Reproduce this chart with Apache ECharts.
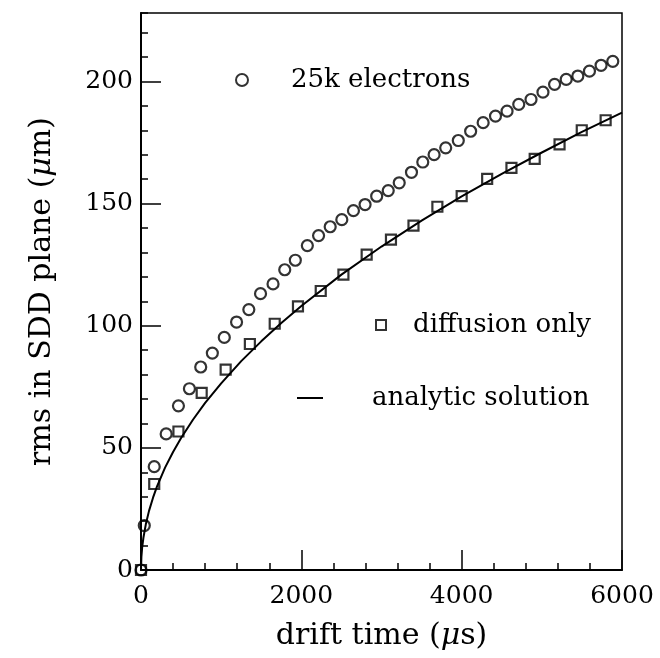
<!DOCTYPE html>
<html>
<head>
<meta charset="utf-8">
<script src="https://cdn.jsdelivr.net/npm/echarts@6/dist/echarts.min.js"></script>
<style>
  html, body { margin: 0; padding: 0; background: #fff; }
  #chart { width: 660px; height: 658px; }
</style>
</head>
<body>
<div id="chart"></div>
<script>
// 25k electrons (circles)
const electronsT = [0, 41, 165, 314, 467, 604, 745, 890, 1039, 1192, 1345, 1491, 1647, 1793, 1925,
  2075, 2215, 2360, 2505, 2650, 2795, 2940, 3084, 3221, 3374, 3515, 3656, 3801, 3958, 4112,
  4268, 4422, 4566, 4712, 4865, 5014, 5159, 5304, 5449, 5594, 5739, 5885];
const electronsRms = [0, 18.2, 42.3, 55.7, 67.2, 74.2, 83.1, 88.8, 95.2, 101.5, 106.6, 113.1, 117.1, 122.9, 126.8,
  132.8, 136.9, 140.5, 143.4, 147.1, 149.6, 153.0, 155.3, 158.5, 162.8, 167.0, 170.0, 172.8, 175.8, 179.6,
  183.1, 185.8, 187.8, 190.6, 192.6, 195.6, 198.8, 200.8, 202.2, 204.2, 206.6, 208.2];

// diffusion only (squares)
const diffusionT = [0, 165, 467, 757, 1056, 1358, 1668, 1958, 2242, 2525, 2815, 3118, 3399, 3697,
  4000, 4318, 4621, 4911, 5221, 5498, 5796];
const diffusionRms = [0, 35.2, 56.7, 72.5, 82.0, 92.5, 100.8, 107.9, 114.2, 120.9, 129.1, 135.2, 141.0, 148.7,
  153.0, 160.1, 164.6, 168.3, 174.2, 180.0, 184.1];

// analytic solution
const analyticT = [0, 5, 15, 30, 60, 100, 150, 200, 300, 400, 500, 650, 800, 1000, 1250, 1500, 1750,
  2000, 2500, 3000, 3500, 4000, 4500, 5000, 5500, 6000];
const analyticRms = [0, 5.4, 9.4, 13.2, 18.7, 24.2, 29.6, 34.2, 41.9, 48.3, 54, 61.6, 68.4, 76.4, 85.5, 93.6, 101.1,
  108.1, 120.9, 132.4, 143, 152.9, 162.1, 170.9, 179.3, 187.2];

const majorYTicks = [0, 50, 100, 150, 200];
const names = ['25k electrons', 'diffusion only', 'analytic solution'];

const zip = (a, b) => a.map((v, i) => [v, b[i]]);
const FONT = 'DejaVu Serif';

const chart = echarts.init(document.getElementById('chart'));

const legendText = (pad) => ({ fontFamily: FONT, fontSize: 26, color: '#000', padding: [0, 0, 0, pad] });

const option = {
  backgroundColor: '#fff',
  animation: false,
  grid: {
    left: 141, right: 38, top: 13, bottom: 88,
    show: true, borderColor: '#000', borderWidth: 1.5,
    outerBoundsMode: 'none'
  },
  legend: [
    {
      data: [names[0]], left: 235, top: 67, padding: 0, selectedMode: false,
      itemWidth: 12, itemHeight: 12, textStyle: legendText(38)
    },
    {
      data: [names[1]], left: 375, top: 312, padding: 0, selectedMode: false,
      itemWidth: 10, itemHeight: 10, textStyle: legendText(22)
    },
    {
      data: [{ name: names[2], icon: 'rect' }], left: 297, top: 385, padding: 0, selectedMode: false,
      itemWidth: 26, itemHeight: 2, textStyle: legendText(44)
    }
  ],
  xAxis: {
    type: 'value', min: 0, max: 6000, interval: 2000,
    name: 'drift time ({i|μ}s)', nameLocation: 'middle', nameGap: 51,
    nameTextStyle: {
      fontFamily: FONT, fontSize: 30, color: '#000',
      rich: { i: { fontFamily: FONT, fontSize: 30, fontStyle: 'italic', color: '#000' } }
    },
    axisLine: { lineStyle: { color: '#000', width: 2 } },
    axisTick: { inside: true, length: 20, lineStyle: { color: '#000', width: 1.5 } },
    minorTick: { show: true, splitNumber: 5, length: 7, lineStyle: { color: '#000', width: 1.5 } },
    splitLine: { show: false },
    axisLabel: { fontFamily: FONT, fontSize: 25, color: '#000', margin: 14, formatter: (v) => String(v) }
  },
  yAxis: [
    {
      type: 'value', min: 0, max: 228, interval: 10,
      name: 'rms in SDD plane ({i|μ}m)', nameLocation: 'middle', nameGap: 84,
      nameTextStyle: {
        fontFamily: FONT, fontSize: 30, color: '#000',
        rich: { i: { fontFamily: FONT, fontSize: 30, fontStyle: 'italic', color: '#000' } }
      },
      axisLine: { lineStyle: { color: '#000', width: 2 } },
      axisTick: { inside: true, length: 7, lineStyle: { color: '#000', width: 1.5 } },
      splitLine: { show: false },
      axisLabel: {
        interval: 0, fontFamily: FONT, fontSize: 25, color: '#000', margin: 8,
        formatter: (v) => (v % 50 === 0 ? String(v) : '')
      }
    },
    {
      type: 'value', min: 0, max: 228, interval: 50, position: 'left',
      axisLine: { show: false },
      axisTick: { inside: true, length: 20, customValues: majorYTicks, lineStyle: { color: '#000', width: 1.5 } },
      splitLine: { show: false },
      axisLabel: { show: false }
    }
  ],
  series: [
    {
      name: names[0], type: 'scatter', symbol: 'circle', symbolSize: 11,
      itemStyle: { color: 'rgba(0,0,0,0)', borderColor: '#000', borderWidth: 2.2 },
      data: zip(electronsT, electronsRms), z: 3
    },
    {
      name: names[1], type: 'scatter', symbol: 'rect', symbolSize: 10,
      itemStyle: { color: 'rgba(0,0,0,0)', borderColor: '#000', borderWidth: 2.2 },
      data: zip(diffusionT, diffusionRms), z: 3
    },
    {
      name: names[2], type: 'line', showSymbol: false, smooth: false,
      color: '#000', lineStyle: { color: '#000', width: 2 },
      itemStyle: { color: '#000' },
      data: zip(analyticT, analyticRms), z: 2
    }
  ]
};

chart.setOption(option);
</script>
</body>
</html>
